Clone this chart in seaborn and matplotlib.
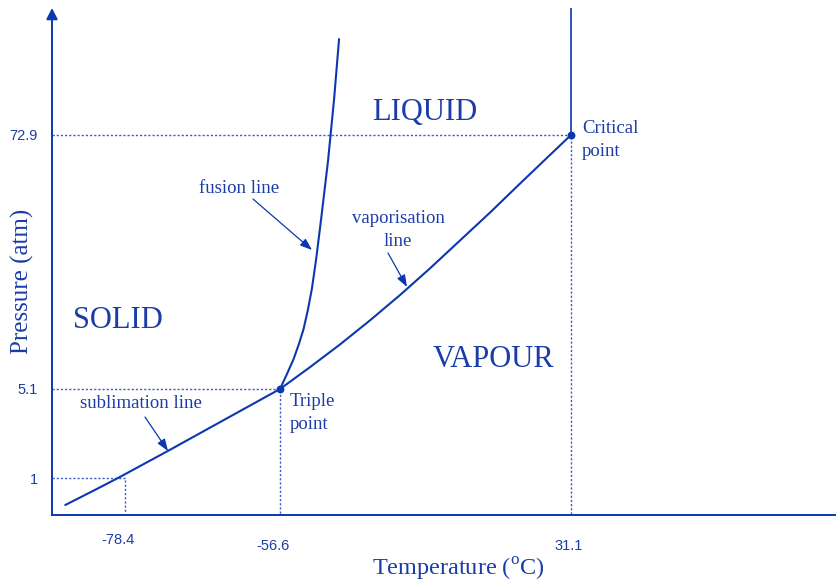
import numpy as np
import pandas as pd
import matplotlib
matplotlib.use("Agg")
import matplotlib.pyplot as plt
import matplotlib.transforms as mtransforms
import seaborn as sns

# ---- data (temperature in deg C, pressure in atm) ----
triple_point = (-56.6, 5.1)
critical_point = (31.1, 72.9)
sublimation_ref = (-78.4, 1.0)

temp_ticks = [-78.4, -56.6, 31.1]
temp_tick_labels = ["-78.4", "-56.6", "31.1"]
pressure_ticks = [1, 5.1, 72.9]
pressure_tick_labels = ["1", "5.1", "72.9"]

sublimation_T = [-86.8, -82.6, -79.1, -72.4, -65.0, -60.8, -56.6]
sublimation_P = [0.27, 0.68, 1.05, 2.24, 3.58, 4.34, 5.1]

vaporisation_T = [-56.6, -47.6, -38.5, -29.5, -20.4, -11.4, -2.4, 6.7, 15.7, 24.8, 31.1]
vaporisation_P = [5.1, 10.9, 17.0, 23.4, 30.2, 37.3, 44.7, 52.2, 59.9, 67.6, 72.9]

fusion_T = [-56.6, -54.5, -52.5, -50.9, -49.5, -48.2, -47.0, -45.7, -44.2, -42.1, -40.3, -38.8]
fusion_P = [5.1, 9.1, 13.1, 17.1, 21.1, 26.2, 31.8, 39.8, 50.5, 66.2, 82.5, 98.5]

# ---- schematic (non-linear) axis scales ----
temp_anchor = [-78.4, -56.6, 31.1]
temp_anchor_pos = [125, 280, 571]
pres_anchor = [0.0, 1.0, 5.1, 72.9]
pres_anchor_pos = [0, 37, 126, 380]


def piecewise(xs, ys):
    xs = np.asarray(xs, float)
    ys = np.asarray(ys, float)

    def f(v):
        v = np.asarray(v, float)
        out = np.interp(v, xs, ys)
        lo_slope = (ys[1] - ys[0]) / (xs[1] - xs[0])
        hi_slope = (ys[-1] - ys[-2]) / (xs[-1] - xs[-2])
        out = np.where(v < xs[0], ys[0] + (v - xs[0]) * lo_slope, out)
        out = np.where(v > xs[-1], ys[-1] + (v - xs[-1]) * hi_slope, out)
        return out
    return f


x_fwd = piecewise(temp_anchor, temp_anchor_pos)
x_inv = piecewise(temp_anchor_pos, temp_anchor)
y_fwd = piecewise(pres_anchor, pres_anchor_pos)
y_inv = piecewise(pres_anchor_pos, pres_anchor)

# ---- style ----
sns.set_theme(style="white")
plt.rcParams["font.family"] = ["Liberation Serif", "DejaVu Serif"]
plt.rcParams["mathtext.fontset"] = "custom"
plt.rcParams["mathtext.rm"] = "Liberation Serif"

LINE = "#0c37b0"
TEXT = "#1a3ca8"
DOT = "#3a5fc8"

W, H = 837, 587
fig = plt.figure(figsize=(W / 100, H / 100), dpi=100)
fig.patch.set_facecolor("white")

ax_left, ax_right, ax_top, ax_bottom = 52, 837, 8, 515
ax = fig.add_axes([ax_left / W, (H - ax_bottom) / H,
                   (ax_right - ax_left) / W, (ax_bottom - ax_top) / H])
ax.set_facecolor("white")
ax.set_xscale("function", functions=(x_fwd, x_inv))
ax.set_yscale("function", functions=(y_fwd, y_inv))
ax.set_xlim(float(x_inv(ax_left)), float(x_inv(ax_right)))
ax.set_ylim(0, float(y_inv(ax_bottom - ax_top)))


def px(x, y):
    """Figure-fraction position from pixel coordinates (origin top-left)."""
    return (x / W, 1 - y / H)


# guide lines to the axes
dot_kw = dict(color=DOT, lw=1.0, linestyle=(0, (1.6, 1.4)), zorder=1)
ymin = ax.get_ylim()[0]
xmin = ax.get_xlim()[0]
ax.plot([xmin, sublimation_ref[0], sublimation_ref[0]],
        [sublimation_ref[1], sublimation_ref[1], ymin], **dot_kw)
ax.plot([xmin, triple_point[0], triple_point[0]],
        [triple_point[1], triple_point[1], ymin], **dot_kw)
ax.plot([xmin, critical_point[0], critical_point[0]],
        [critical_point[1], critical_point[1], ymin], **dot_kw)

# phase boundaries
curve_kw = dict(color=LINE, linewidth=1.5, sort=False, estimator=None, legend=False, zorder=3)
sns.lineplot(data=pd.DataFrame({"T": sublimation_T, "P": sublimation_P}), x="T", y="P", ax=ax, **curve_kw)
sns.lineplot(data=pd.DataFrame({"T": vaporisation_T, "P": vaporisation_P}), x="T", y="P", ax=ax, **curve_kw)
sns.lineplot(data=pd.DataFrame({"T": fusion_T, "P": fusion_P}), x="T", y="P", ax=ax, **curve_kw)
for ln in ax.lines:
    ln.set_solid_joinstyle("round")

# critical isotherm above the critical point
ax.plot([critical_point[0], critical_point[0]], [critical_point[1], ax.get_ylim()[1]],
        color=LINE, lw=1.2, zorder=3)

# triple and critical points
pts = pd.DataFrame({"T": [triple_point[0], critical_point[0]],
                    "P": [triple_point[1], critical_point[1]]})
sns.scatterplot(data=pts, x="T", y="P", ax=ax, color=LINE, s=32, edgecolor=LINE,
                linewidth=0, zorder=4, legend=False)

# axes: bottom spine + left arrow
for side in ["top", "right", "left"]:
    ax.spines[side].set_visible(False)
ax.spines["bottom"].set_color(LINE)
ax.spines["bottom"].set_linewidth(1.4)
ax.annotate("", xy=(0, 1), xytext=(0, 0), xycoords="axes fraction",
            arrowprops=dict(arrowstyle="-|>,head_length=0.55,head_width=0.28",
                            color=LINE, lw=1.4, shrinkA=0, shrinkB=0))

# ticks
ax.set_xticks(temp_ticks)
ax.set_xticklabels(temp_tick_labels)
ax.set_yticks(pressure_ticks)
ax.set_yticklabels(pressure_tick_labels)
ax.tick_params(axis="both", length=0, colors=TEXT, labelsize=10.5)
ax.tick_params(axis="x", pad=17)
ax.tick_params(axis="y", pad=10)
for lab in ax.get_xticklabels() + ax.get_yticklabels():
    lab.set_fontfamily(["Liberation Sans", "DejaVu Sans"])
    lab.set_color(TEXT)
x_offsets = {"-78.4": (-7, 6), "-56.6": (-7, 0), "31.1": (-2, 0)}
for lab in ax.get_xticklabels():
    dx, dy = x_offsets.get(lab.get_text(), (0, 0))
    lab.set_transform(lab.get_transform() +
                      mtransforms.ScaledTranslation(dx / 100, dy / 100, fig.dpi_scale_trans))
ax.set_xlabel("")
ax.set_ylabel("")

# region names
big = dict(fontsize=22, color=TEXT, ha="center", va="baseline", transform=fig.transFigure)
fig.text(*px(425, 120), "LIQUID", **big)
fig.text(*px(118, 328), "SOLID", **big)
fig.text(*px(493, 367), "VAPOUR", **big)

# line names and point names
small = dict(fontsize=13.5, color=TEXT, va="baseline", transform=fig.transFigure)
fig.text(*px(239, 193), "fusion line", ha="center", **small)
fig.text(*px(398, 223), "vaporisation", ha="center", **small)
fig.text(*px(398, 246), "line", ha="center", **small)
fig.text(*px(141, 408), "sublimation line", ha="center", **small)
fig.text(*px(290, 406), "Triple", ha="left", **small)
fig.text(*px(290, 429), "point", ha="left", **small)
fig.text(*px(582, 133), "Critical", ha="left", **small)
fig.text(*px(582, 156), "point", ha="left", **small)

# pointer arrows
arrow_kw = dict(arrowstyle="-|>,head_length=0.6,head_width=0.22", color=LINE, lw=0.9,
                shrinkA=0, shrinkB=0)
for start, end in [((253, 199), (312, 250)), ((388, 253), (407, 287)), ((145, 417), (168, 451))]:
    ax.annotate("", xy=px(*end), xytext=px(*start), xycoords="figure fraction",
                textcoords="figure fraction", arrowprops=arrow_kw)

# axis titles
fig.text(*px(458, 576), r"Temperature ($^{\mathrm{o}}$C)", fontsize=17.5, color=TEXT,
         ha="center", va="baseline")
fig.text(*px(22, 281), "Pressure (atm)", fontsize=18, color=TEXT, rotation=90,
         ha="center", va="center")

fig.savefig("out.png", dpi=100, facecolor="white")
